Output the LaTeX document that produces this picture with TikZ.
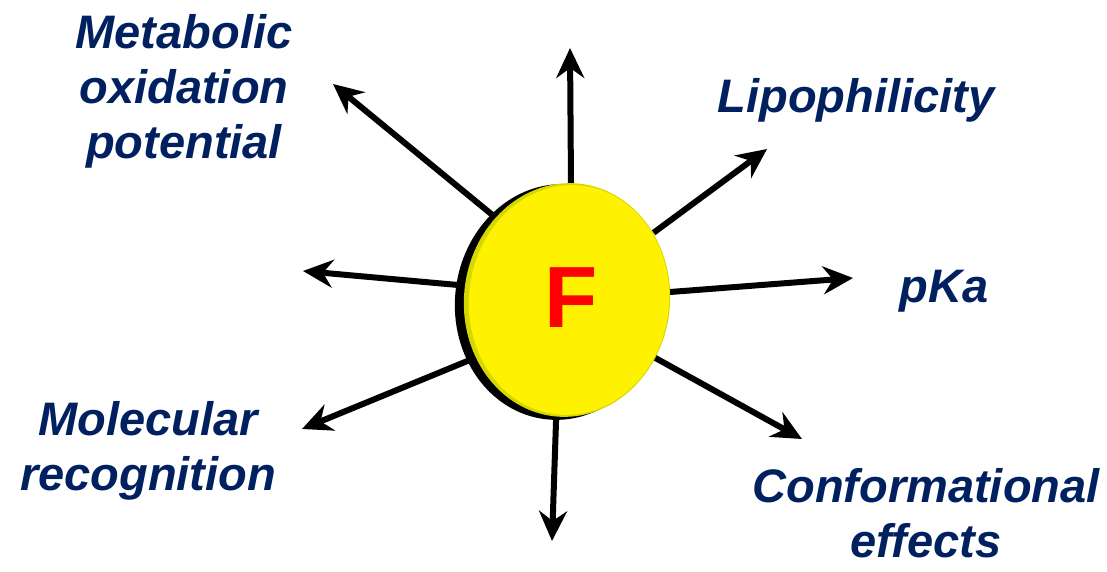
\documentclass[tikz,border=0pt]{standalone}
\usepackage{fontspec}
\setmainfont{Liberation Sans}
\usetikzlibrary{arrows.meta}
\definecolor{navy}{RGB}{0,32,96}
\definecolor{darkyel}{RGB}{215,215,0}
\begin{document}
\begin{tikzpicture}[x=1pt,y=-1pt,
  arr/.style={line width=6pt, -{Stealth[length=30pt,width=28pt,inset=10pt]}, shorten <=-8pt},
  lbl/.style={text=navy, font=\fontsize{47}{55}\selectfont\bfseries\itshape, inner sep=0pt, align=center}]
\useasboundingbox (0,0) rectangle (1107,572);
% arrow end points
\coordinate (t1) at (570,48);  \coordinate (s1) at (571,185);
\coordinate (t2) at (333,84);  \coordinate (s2) at (490,213);
\coordinate (t3) at (767,149); \coordinate (s3) at (660,228);
\coordinate (t4) at (853,278); \coordinate (s4) at (670,292);
\coordinate (t5) at (303,271); \coordinate (s5) at (458,285);
\coordinate (t6) at (302,429); \coordinate (s6) at (465,362);
\coordinate (t7) at (802,439); \coordinate (s7) at (650,355);
\coordinate (t8) at (552,541); \coordinate (s8) at (556,422);
\foreach \i in {1,...,8} {\draw[arr] (s\i) -- (t\i);}
% disc
\coordinate (rim) at (559,302);
\coordinate (face) at (567,300);
\coordinate (inner) at (569,300);
\fill[black, rotate around={-6:(rim)}] (rim) ellipse [x radius=104pt, y radius=118pt];
\fill[darkyel, rotate around={-6:(face)}] (face) ellipse [x radius=103pt, y radius=117pt];
\fill[yellow, rotate around={-6:(inner)}] (inner) ellipse [x radius=100pt, y radius=115pt];
\node[text=red, font=\fontsize{87}{87}\selectfont\bfseries, inner sep=0pt] (F) at (571,298) {F};
% labels
\node[lbl, anchor=north] (lm) at (184,14) {Metabolic\\oxidation\\potential};
\node[lbl, anchor=base] (ll) at (856,113) {Lipophilicity};
\node[lbl, anchor=base] (lp) at (944,302) {pKa};
\node[lbl, anchor=north] (lr) at (148,401) {Molecular\\recognition};
\node[lbl, anchor=north] (lc) at (926,468) {Conformational\\effects};
\end{tikzpicture}
\end{document}
